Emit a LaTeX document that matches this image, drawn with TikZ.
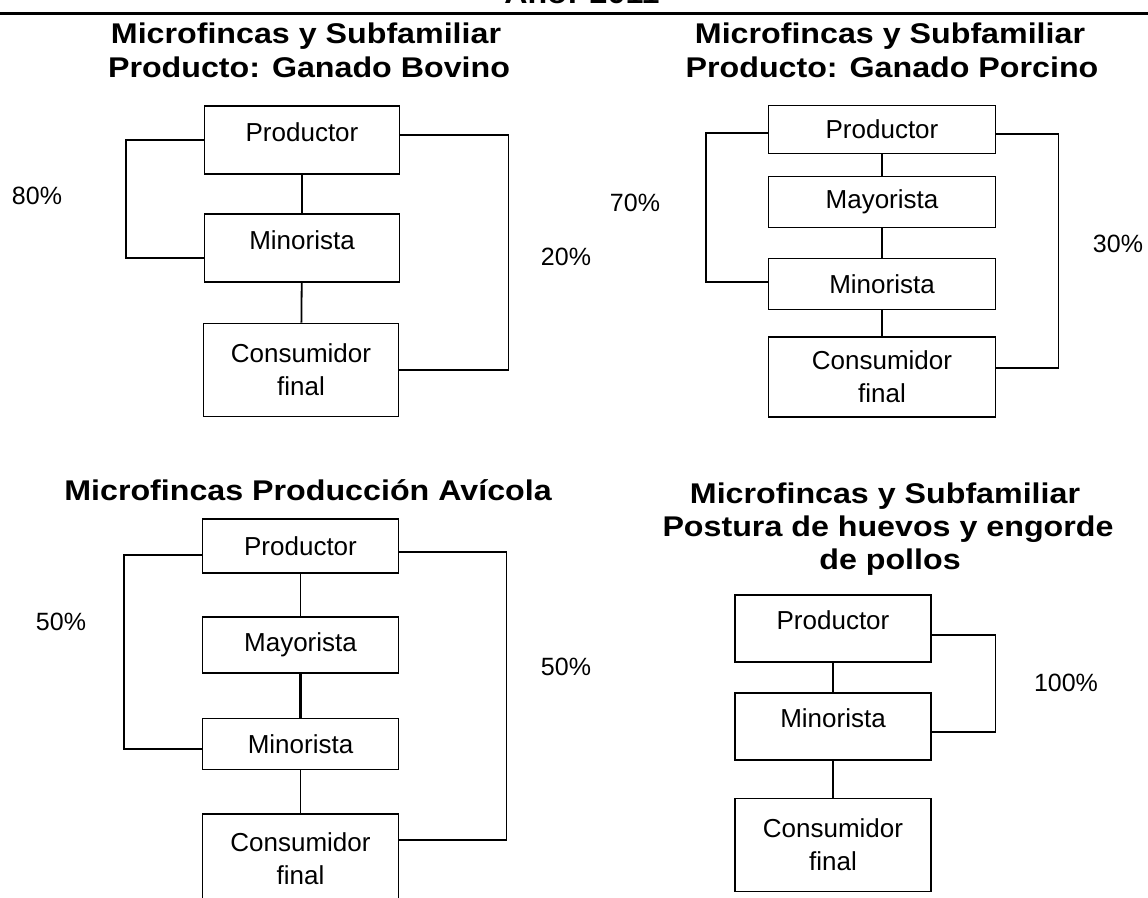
\documentclass[tikz,border=0pt]{standalone}
\usepackage{fontspec}
\setmainfont{Liberation Sans}
\newfontfamily\titlefont[FakeStretch=1.13]{Liberation Sans}
\tikzset{
  box/.style={draw, line width=1.8pt, minimum width=196pt, inner sep=0pt, align=center, font=\fontsize{26}{33}\selectfont},
  hi/.style={text height=19pt, text depth=17pt},
  ttl/.style={anchor=base, inner sep=0pt, font=\titlefont\bfseries\fontsize{28.5}{34}\selectfont},
  pct/.style={inner sep=0pt, font=\fontsize{25}{30}\selectfont},
  link/.style={line width=1.8pt}
}

\begin{document}
\begin{tikzpicture}[x=1pt,y=-1pt]
\path[use as bounding box, fill=white] (0,0) rectangle (1148,897);
\coordinate (la) at (0,13);
\coordinate (lb) at (1148,13);
\draw[line width=3pt] (la)--(lb);
\node (yr)[ttl] at (582,3) {Año: 2011};

\node (t1a)[ttl] at (306,43) {Microfincas y Subfamiliar};
\node (t1b)[ttl] at (309,77) {Producto: Ganado Bovino};
\node (p1)[box, hi, minimum width=195pt, minimum height=68pt] at (302,140) {Productor};
\node (m1)[box, hi, minimum width=195pt, minimum height=68pt] at (302,248) {Minorista};
\node (c1)[box, minimum width=195pt, minimum height=93pt] at (301,370) {Consumidor\\final};
\node (q1)[pct] at (37,196) {80\%};
\node (r1)[pct] at (566,257) {20\%};
\draw[link] (p1)--(m1);
\draw[link] (m1)--(c1);
\draw[link] (p1.west) -- ++(-78,0) |- ([yshift=-10pt]m1.west);
\draw[link] ([yshift=5pt]p1.east) -- ++(108,0) |- (c1.east);

\node (t2a)[ttl] at (890,43) {Microfincas y Subfamiliar};
\node (t2b)[ttl] at (892,77) {Producto: Ganado Porcino};
\node (p2)[box, minimum width=227pt, minimum height=48pt] at (882,129.5) {Productor};
\node (y2)[box, minimum width=227pt, minimum height=51pt] at (882,202) {Mayorista};
\node (n2)[box, minimum width=227pt, minimum height=51pt] at (882,284) {Minorista};
\node (c2)[box, minimum width=227pt, minimum height=80pt] at (882,377) {Consumidor\\final};
\node (q2)[pct] at (635,203) {70\%};
\node (r2)[pct] at (1118,244) {30\%};
\draw[link] (p2)--(y2);
\draw[link] (y2)--(n2);
\draw[link] (n2)--(c2);
\draw[link] ([yshift=-3.5pt]p2.west) -- ++(-62,0) |- ([yshift=2pt]n2.west);
\draw[link] ([yshift=-4.5pt]p2.east) -- ++(62,0) |- ([yshift=9pt]c2.east);

\node (t3)[ttl] at (308,500) {Microfincas Producción Avícola};
\node (p3)[box, minimum height=54pt] at (300.5,546) {Productor};
\node (y3)[box, minimum height=56pt] at (300.5,644.7) {Mayorista};
\node (n3)[box, minimum height=51pt] at (300.5,744) {Minorista};
\node (c3)[box, minimum height=90pt] at (300.5,859) {Consumidor\\final};
\node (q3)[pct] at (61,622) {50\%};
\node (r3)[pct] at (566,667) {50\%};
\draw[link] (p3)--(y3);
\draw[line width=3.5pt] (y3)--(n3);
\draw[link] (n3)--(c3);
\draw[link] ([yshift=-9pt]p3.west) -- ++(-78,0) |- ([yshift=-5pt]n3.west);
\draw[link] ([yshift=-6pt]p3.east) -- ++(107,0) |- ([yshift=19pt]c3.east);

\node (t4a)[ttl] at (885,503) {Microfincas y Subfamiliar};
\node (t4b)[ttl] at (888,536) {Postura de huevos y engorde};
\node (t4c)[ttl] at (890,569) {de pollos};
\node (p4)[box, hi, minimum height=66.7pt] at (833,628.3) {Productor};
\node (n4)[box, hi, minimum height=66.7pt] at (833,726.7) {Minorista};
\node (c4)[box, minimum height=93pt] at (833,845) {Consumidor\\final};
\node (r4)[pct] at (1066,683) {100\%};
\draw[link] (p4)--(n4);
\draw[link] (n4)--(c4);
\draw[link] ([yshift=-6.7pt]p4.east) -- ++(63.5,0) |- ([yshift=-5pt]n4.east);
\end{tikzpicture}
\end{document}
